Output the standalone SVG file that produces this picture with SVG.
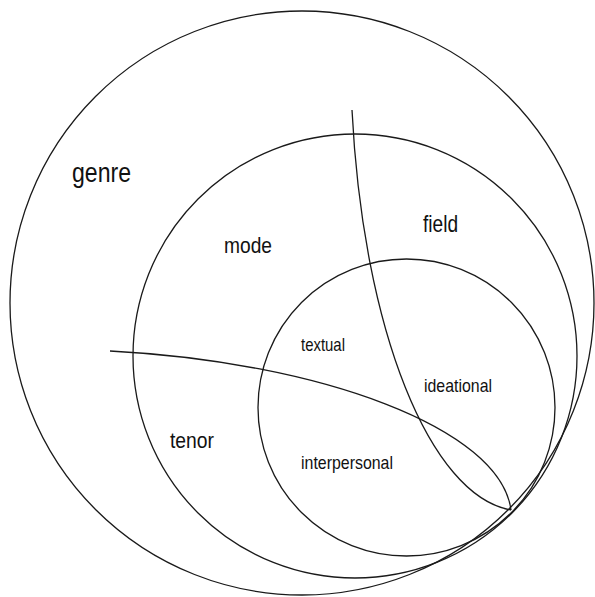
<svg xmlns="http://www.w3.org/2000/svg" width="595" height="597" viewBox="0 0 595 597">
<style>
.c{fill:none;stroke:#1a1a1a;stroke-width:1.3}
.t{font-family:"Liberation Sans",Arial,sans-serif;fill:#111}
</style>
<rect width="595" height="597" fill="#fff"/>
<g id="genre">
<circle class="c" cx="302" cy="303" r="292"/>
<text class="t" x="72" y="181.5" font-size="27" textLength="59" lengthAdjust="spacingAndGlyphs">genre</text>
</g>
<g id="register">
<circle class="c" cx="355" cy="356" r="222"/>
<text class="t" x="224" y="252.5" font-size="22" textLength="48" lengthAdjust="spacingAndGlyphs">mode</text>
<text class="t" x="423" y="232.3" font-size="24" textLength="35" lengthAdjust="spacingAndGlyphs">field</text>
<text class="t" x="170" y="448" font-size="22" textLength="44" lengthAdjust="spacingAndGlyphs">tenor</text>
</g>
<g id="language">
<circle class="c" cx="406.5" cy="407.5" r="148.5"/>
<text class="t" x="301" y="350.5" font-size="19" textLength="44" lengthAdjust="spacingAndGlyphs">textual</text>
<text class="t" x="424" y="391.5" font-size="19" textLength="68" lengthAdjust="spacingAndGlyphs">ideational</text>
<text class="t" x="301" y="469" font-size="19" textLength="92" lengthAdjust="spacingAndGlyphs">interpersonal</text>
</g>
<g id="connectors">
<path class="c" d="M352,110 C363,330 430,496 511,510"/>
<path class="c" d="M110,351 C320,362 500,428 511,510"/>
</g>
</svg>
